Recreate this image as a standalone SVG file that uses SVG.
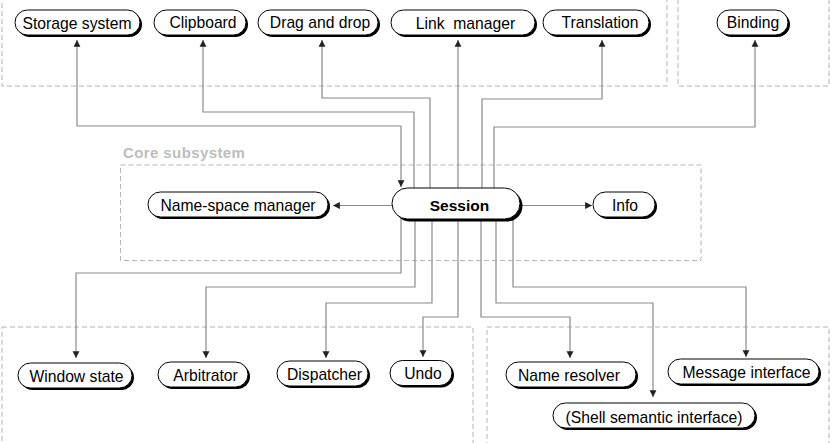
<svg xmlns="http://www.w3.org/2000/svg" width="830" height="443" viewBox="0 0 830 443">
<defs>
<style>
.grp{fill:none;stroke:#b4b4b4;stroke-width:1;stroke-dasharray:5 3}
.lbl{font-family:"Liberation Sans",Arial,sans-serif;font-size:15px;font-weight:bold;fill:#bdbdbd;letter-spacing:0.4px}
.sh{fill:#000}
.pill{fill:#fff;stroke:#000;stroke-width:1}
.t{font-family:"Liberation Sans",Arial,sans-serif;font-size:15.7px;fill:#000;text-anchor:middle}
.tb{font-family:"Liberation Sans",Arial,sans-serif;font-size:15.5px;font-weight:bold;fill:#000;text-anchor:middle}
.c{fill:none;stroke:#8a8a8a;stroke-width:1.2}
</style>
<marker id="ah" markerUnits="userSpaceOnUse" markerWidth="8" markerHeight="8" refX="6" refY="3" orient="auto-start-reverse" viewBox="0 0 7 6">
<path d="M0,0 L6,3 L0,6 Z" fill="#222"/>
</marker>
</defs>

<g id="groups">
<rect class="grp" x="2" y="-10" width="665" height="96"/>
<rect class="grp" x="678" y="-10" width="151" height="96"/>
<rect class="grp" x="120.5" y="165" width="580.5" height="95.5"/>
<text class="lbl" x="123" y="158">Core subsystem</text>
<rect class="grp" x="2" y="327" width="471" height="130"/>
<rect class="grp" x="487" y="327" width="342" height="130"/>
</g>

<g id="connectors">
<path class="c" d="M77,40 V126 H401 V187" marker-start="url(#ah)" marker-end="url(#ah)"/>
<path class="c" d="M414,200 V112 H203 V40" marker-end="url(#ah)"/>
<path class="c" d="M430,200 V98 H322 V40" marker-end="url(#ah)"/>
<path class="c" d="M458,200 V40" marker-end="url(#ah)"/>
<path class="c" d="M482,200 V99 H602 V40" marker-end="url(#ah)"/>
<path class="c" d="M494,200 V127 H755 V40" marker-end="url(#ah)"/>
<path class="c" d="M400,205.5 H333" marker-end="url(#ah)"/>
<path class="c" d="M515,205.5 H592" marker-end="url(#ah)"/>
<path class="c" d="M401,210 V273 H76 V358" marker-end="url(#ah)"/>
<path class="c" d="M415,210 V287 H206 V358" marker-end="url(#ah)"/>
<path class="c" d="M432,210 V303 H326 V358" marker-end="url(#ah)"/>
<path class="c" d="M458,210 V317 H423 V357" marker-end="url(#ah)"/>
<path class="c" d="M481,210 V317 H570 V358" marker-end="url(#ah)"/>
<path class="c" d="M496,210 V303 H653 V397" marker-end="url(#ah)"/>
<path class="c" d="M513,210 V287 H746 V357" marker-end="url(#ah)"/>
</g>

<g id="storage">
<rect class="sh" x="17" y="12" width="125" height="25" rx="12.5"/>
<rect class="pill" x="15" y="10" width="125" height="25" rx="12.5"/>
<text class="t" x="77" y="29">Storage system</text>
</g>
<g id="clipboard">
<rect class="sh" x="156" y="12" width="92" height="25" rx="12.5"/>
<rect class="pill" x="154" y="10" width="92" height="25" rx="12.5"/>
<text class="t" x="203" y="28">Clipboard</text>
</g>
<g id="dragdrop">
<rect class="sh" x="260" y="12" width="120" height="25" rx="12.5"/>
<rect class="pill" x="258" y="10" width="120" height="25" rx="12.5"/>
<text class="t" x="320" y="28">Drag and drop</text>
</g>
<g id="linkmanager">
<rect class="sh" x="393" y="12" width="144" height="25" rx="12.5"/>
<rect class="pill" x="391" y="10" width="144" height="25" rx="12.5"/>
<text class="t" x="465.5" y="29" xml:space="preserve">Link  manager</text>
</g>
<g id="translation">
<rect class="sh" x="545" y="12" width="106" height="25" rx="12.5"/>
<rect class="pill" x="543" y="10" width="106" height="25" rx="12.5"/>
<text class="t" x="600" y="28">Translation</text>
</g>
<g id="binding">
<rect class="sh" x="719" y="12" width="71" height="25" rx="12.5"/>
<rect class="pill" x="717" y="10" width="71" height="25" rx="12.5"/>
<text class="t" x="753" y="28">Binding</text>
</g>

<g id="session">
<rect class="sh" x="394.5" y="190.5" width="128" height="31" rx="15.5"/>
<rect class="pill" x="392" y="188" width="128" height="31" rx="15.5"/>
<text class="tb" x="459.5" y="210.5">Session</text>
</g>
<g id="namespace">
<rect class="sh" x="150" y="194" width="180" height="25" rx="12.5"/>
<rect class="pill" x="148" y="192" width="180" height="25" rx="12.5"/>
<text class="t" x="238" y="210.5">Name-space manager</text>
</g>
<g id="info">
<rect class="sh" x="595" y="194" width="62" height="25" rx="12.5"/>
<rect class="pill" x="593" y="192" width="62" height="25" rx="12.5"/>
<text class="t" x="625" y="210.5">Info</text>
</g>

<g id="windowstate">
<rect class="sh" x="20" y="365" width="114" height="25" rx="12.5"/>
<rect class="pill" x="18" y="363" width="114" height="25" rx="12.5"/>
<text class="t" x="76.5" y="382">Window state</text>
</g>
<g id="arbitrator">
<rect class="sh" x="160" y="364" width="90" height="25" rx="12.5"/>
<rect class="pill" x="158" y="362" width="90" height="25" rx="12.5"/>
<text class="t" x="205.5" y="380.5">Arbitrator</text>
</g>
<g id="dispatcher">
<rect class="sh" x="279" y="363" width="91" height="25" rx="12.5"/>
<rect class="pill" x="277" y="361" width="91" height="25" rx="12.5"/>
<text class="t" x="324.5" y="379.5">Dispatcher</text>
</g>
<g id="undo">
<rect class="sh" x="392" y="362.5" width="62" height="25" rx="12.5"/>
<rect class="pill" x="390" y="360.5" width="62" height="25" rx="12.5"/>
<text class="t" x="423" y="378.5">Undo</text>
</g>
<g id="nameresolver">
<rect class="sh" x="508" y="364" width="130" height="25" rx="12.5"/>
<rect class="pill" x="506" y="362" width="130" height="25" rx="12.5"/>
<text class="t" x="569" y="380.5">Name resolver</text>
</g>
<g id="messageinterface">
<rect class="sh" x="670" y="361" width="151" height="25" rx="12.5"/>
<rect class="pill" x="668" y="359" width="151" height="25" rx="12.5"/>
<text class="t" x="746.5" y="378">Message interface</text>
</g>
<g id="shellsemantic">
<rect class="sh" x="555" y="405" width="202" height="25" rx="12.5"/>
<rect class="pill" x="553" y="403" width="202" height="25" rx="12.5"/>
<text class="t" x="654" y="423">(Shell semantic interface)</text>
</g>
</svg>
